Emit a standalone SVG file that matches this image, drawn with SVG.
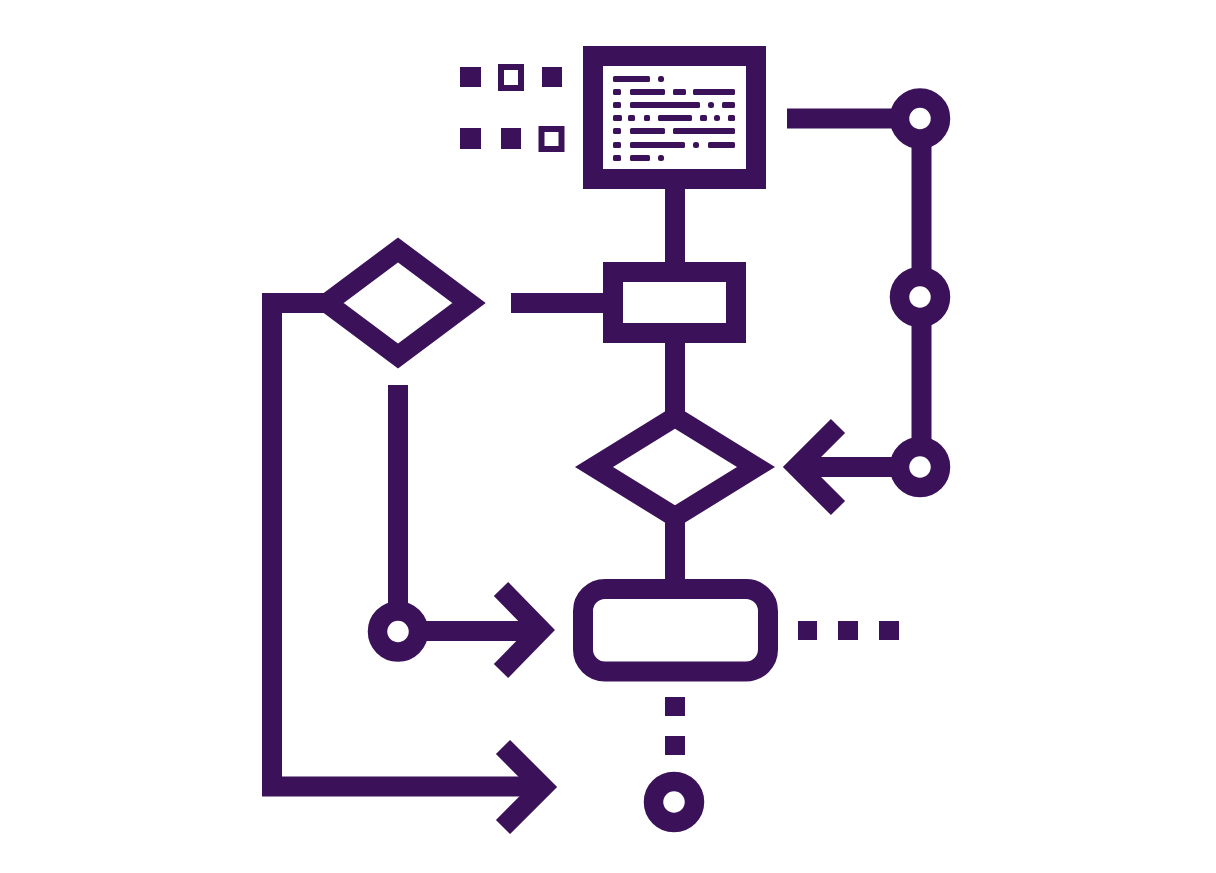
<svg xmlns="http://www.w3.org/2000/svg" width="1216" height="873" viewBox="0 0 1216 873">
<style>
.s{fill:none;stroke:#3b1259;stroke-width:20;stroke-linejoin:miter;stroke-linecap:butt}
.f{fill:#3b1259}
.h{fill:none;stroke:#3b1259;stroke-width:6}
.c{fill:#fff;stroke:#3b1259;stroke-width:19.5}
</style>
<rect width="1216" height="873" fill="#fff"/>
<g id="connectors">
<line class="s" x1="675" y1="189" x2="675" y2="263"/>
<line class="s" x1="675" y1="342" x2="675" y2="412"/>
<line class="s" x1="675" y1="520" x2="675" y2="580"/>
<line class="s" x1="511" y1="303" x2="604" y2="303"/>
<path class="s" d="M338 303 H272 V786.5 H541"/>
<polyline class="s" points="503,747 543,787 503,827"/>
<line class="s" x1="398" y1="385" x2="398" y2="612"/>
<line class="s" x1="420" y1="631" x2="538" y2="631"/>
<polyline class="s" points="501,589 541,630 501,671"/>
<line class="s" x1="787" y1="118.5" x2="900" y2="118.5"/>
<line class="s" x1="921.5" y1="130" x2="921.5" y2="455"/>
<line class="s" x1="800" y1="467" x2="900" y2="467"/>
<polyline class="s" points="838,426 797,467 838,508"/>
<g class="f">
<rect x="798" y="621" width="19" height="19"/>
<rect x="838" y="621" width="20" height="19"/>
<rect x="879" y="621" width="20" height="19"/>
<rect x="665" y="697" width="20" height="19"/>
<rect x="665" y="736" width="20" height="19"/>
</g>
</g>
<g id="monitor">
<rect class="s" x="593" y="56" width="163" height="123"/>
<g class="f">
<rect x="613" y="76" width="37" height="6" rx="1.5"/><rect x="658" y="76" width="6" height="6" rx="2.5"/>
<rect x="613" y="89" width="8" height="6" rx="1.5"/><rect x="630" y="89" width="35" height="6" rx="1.5"/><rect x="673" y="89" width="13" height="6" rx="1.5"/><rect x="693" y="89" width="42" height="6" rx="1.5"/>
<rect x="613" y="102" width="8" height="6" rx="1.5"/><rect x="630" y="102" width="70" height="6" rx="1.5"/><rect x="708" y="102" width="6" height="6" rx="2.5"/><rect x="722" y="102" width="13" height="6" rx="1.5"/>
<rect x="613" y="115" width="9" height="6" rx="1.5"/><rect x="628" y="115" width="7" height="6" rx="1.5"/><rect x="644" y="115" width="6" height="6" rx="1.5"/><rect x="658" y="115" width="34" height="6" rx="1.5"/><rect x="700" y="115" width="7" height="6" rx="1.5"/><rect x="714" y="115" width="6" height="6" rx="2.5"/><rect x="728" y="115" width="7" height="6" rx="1.5"/>
<rect x="613" y="128" width="8" height="6" rx="1.5"/><rect x="630" y="128" width="35" height="6" rx="1.5"/><rect x="673" y="128" width="62" height="6" rx="1.5"/>
<rect x="613" y="142" width="8" height="6" rx="1.5"/><rect x="630" y="142" width="55" height="6" rx="1.5"/><rect x="693" y="142" width="6" height="6" rx="2.5"/><rect x="708" y="142" width="27" height="6" rx="1.5"/>
<rect x="613" y="155" width="8" height="6" rx="1.5"/><rect x="630" y="155" width="20" height="6" rx="1.5"/><rect x="658" y="155" width="6" height="6" rx="2.5"/>
</g>
</g>
<g id="squares">
<g class="f">
<rect x="460" y="67" width="21" height="20"/>
<rect x="542" y="67" width="20" height="20"/>
<rect x="460" y="128" width="21" height="21"/>
<rect x="501" y="128" width="20" height="21"/>
</g>
<rect class="h" x="501" y="67" width="20" height="21"/>
<rect class="h" x="541.5" y="129" width="20" height="20"/>
</g>
<g id="process">
<rect class="s" x="613" y="272" width="123" height="61"/>
</g>
<g id="decision-left">
<polygon class="s" points="398,250 469,303 398,356 327,303"/>
</g>
<g id="decision-center">
<polygon class="s" points="675,417 756,467 675,517 594,467"/>
</g>
<g id="terminal">
<rect class="s" x="583" y="589" width="185" height="82.5" rx="22"/>
</g>
<g id="circles">
<circle class="c" cx="920" cy="118.5" r="20.5"/>
<circle class="c" cx="920" cy="297" r="20.5"/>
<circle class="c" cx="920" cy="467" r="20.5"/>
<circle class="c" cx="398" cy="631.5" r="20.5"/>
<circle class="c" cx="674" cy="802" r="20.5"/>
</g>
</svg>
